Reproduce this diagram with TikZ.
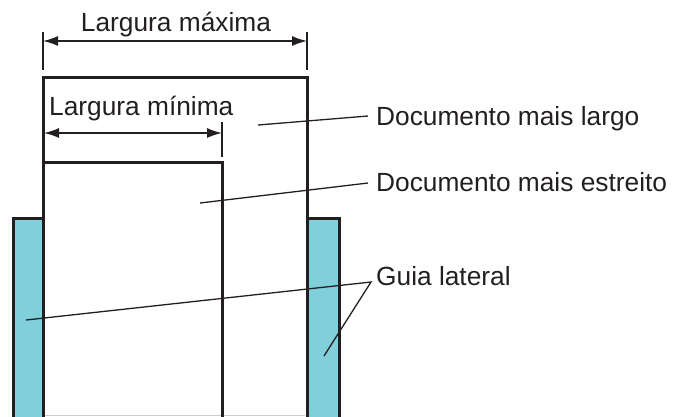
\documentclass[tikz,border=0pt]{standalone}
\usepackage{fontspec}
\setmainfont{Liberation Sans}
\usetikzlibrary{arrows.meta}
\definecolor{guidefill}{HTML}{80CFDB}
\definecolor{ink}{HTML}{231F20}
\begin{document}
\begin{tikzpicture}[x=1pt,y=-1pt,
  outline/.style={draw=ink,line width=3pt},
  guide/.style={draw=ink,fill=guidefill,line width=3pt},
  dimline/.style={draw=ink,line width=1.5pt,{Latex[length=15pt,width=10pt]}-{Latex[length=15pt,width=10pt]}},
  extline/.style={draw=ink,line width=1.5pt},
  leader/.style={draw=ink,line width=1.3pt},
  lbl/.style={font=\fontsize{26.3}{31}\selectfont,text=ink,inner sep=0pt,anchor=base west}]
\useasboundingbox (0,0) rectangle (675,416);
% guides
\draw[guide] (13,418) -- (13,218) -- (43,218) -- (43,418);
\draw[guide] (307,418) -- (307,218) -- (339,218) -- (339,418);
% bottom faint edge
\draw[gray!40,line width=1pt] (45,415.5) -- (305,415.5);
% documents
\draw[outline] (43,418) -- (43,77) -- (307,77) -- (307,418);
\draw[outline] (43,162) -- (222,162) -- (222,418);
% dimension lines
\draw[extline] (43,32) -- (43,70);
\draw[extline] (307,32) -- (307,70);
\coordinate (maxL) at (43,41);
\coordinate (maxR) at (307,41);
\draw[dimline] (maxL) -- (maxR);
\node[lbl,anchor=base] (tmax) at (176,31) {Largura máxima};
\draw[extline] (222,122) -- (222,157);
\coordinate (minL) at (44,133);
\coordinate (minR) at (222,133);
\draw[dimline] (minL) -- (minR);
\node[lbl] (tmin) at (49,115) {Largura mínima};
% labels
\node[lbl] (tlargo) at (376,125) {Documento mais largo};
\node[lbl] (testr) at (376,191) {Documento mais estreito};
\node[lbl] (tguia) at (376,285) {Guia lateral};
\coordinate (plargo) at (258,125);
\coordinate (elargo) at (368,116);
\coordinate (pestr) at (200,203);
\coordinate (eestr) at (368,183);
\coordinate (gL) at (26,320);
\coordinate (gR) at (324,356);
\coordinate (eguia) at (371,282);
\draw[leader] (plargo) -- (elargo);
\draw[leader] (pestr) -- (eestr);
\draw[leader] (gL) -- (eguia) -- (gR);
\end{tikzpicture}
\end{document}
